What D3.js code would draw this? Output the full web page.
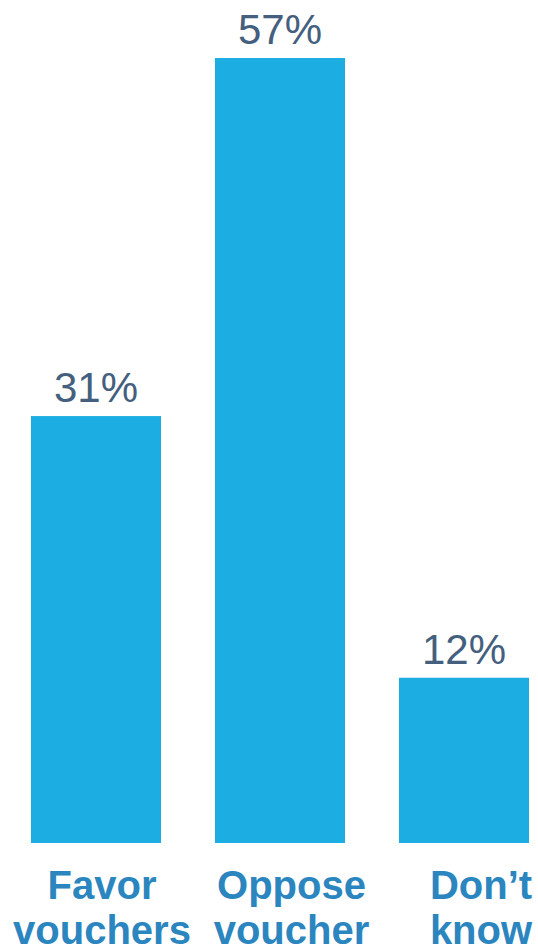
<!DOCTYPE html>
<html>
<head>
<meta charset="utf-8">
<script src="https://cdn.jsdelivr.net/npm/d3@7"></script>
<style>
  html, body { margin: 0; padding: 0; background: #ffffff; }
  svg { display: block; }
</style>
</head>
<body>
<svg id="chart" width="538" height="951"></svg>
<script>
const categories = ["Favor vouchers", "Oppose voucher", "Don't know"];
const labelLines = [["Favor", "vouchers"], ["Oppose", "voucher"], ["Don\u2019t", "know"]];
const values = [31, 57, 12];
const valueLabels = ["31%", "57%", "12%"];

const W = 538, H = 951;
const svg = d3.select("#chart");

const x = d3.scaleBand().domain(categories).range([31, 529]).paddingInner(0.2935).paddingOuter(0);
const y = d3.scaleLinear().domain([0, 57]).range([843, 58]);
const xLabel = d3.scalePoint().domain(categories).range([102, 481]);

const barColor = "#1cade2";

svg.selectAll("rect.bar")
  .data(values)
  .join("rect")
  .attr("class", "bar")
  .attr("x", (d, i) => x(categories[i]))
  .attr("y", d => y(d))
  .attr("width", x.bandwidth())
  .attr("height", d => y(0) - y(d))
  .attr("fill", barColor);

svg.selectAll("text.val")
  .data(values)
  .join("text")
  .attr("class", "val")
  .attr("x", (d, i) => x(categories[i]) + x.bandwidth() / 2)
  .attr("y", d => y(d) - 14)
  .attr("text-anchor", "middle")
  .attr("font-family", "Liberation Sans, Arial, sans-serif")
  .attr("font-size", 42)
  .attr("fill", "#44607e")
  .text((d, i) => valueLabels[i]);

const cat = svg.selectAll("text.cat")
  .data(categories)
  .join("text")
  .attr("class", "cat")
  .attr("text-anchor", "middle")
  .attr("font-family", "Liberation Sans, Arial, sans-serif")
  .attr("font-weight", "bold")
  .attr("font-size", 40)
  .attr("fill", "#2b86bf");

cat.each(function(d, i) {
  const t = d3.select(this);
  labelLines[i].forEach((line, j) => {
    t.append("tspan")
      .attr("x", xLabel(d))
      .attr("y", 899 + j * 45)
      .text(line);
  });
});
</script>
</body>
</html>
